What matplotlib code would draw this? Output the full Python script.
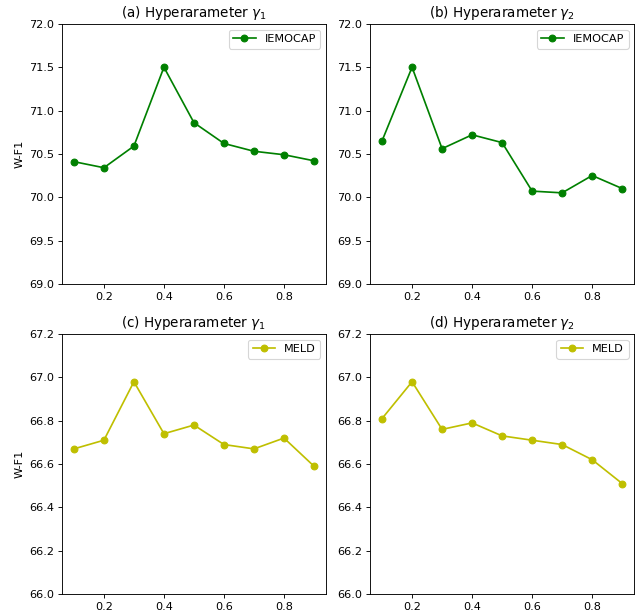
import matplotlib
matplotlib.use("Agg")
from matplotlib import pyplot as plt

xs = [0.1, 0.2, 0.3, 0.4, 0.5, 0.6, 0.7, 0.8, 0.9]

iemocap_g1 = [70.41, 70.34, 70.59, 71.50, 70.86, 70.62, 70.53, 70.49, 70.42]
iemocap_g2 = [70.65, 71.50, 70.56, 70.72, 70.63, 70.07, 70.05, 70.25, 70.10]
meld_g1 = [66.67, 66.71, 66.98, 66.74, 66.78, 66.69, 66.67, 66.72, 66.59]
meld_g2 = [66.81, 66.98, 66.76, 66.79, 66.73, 66.71, 66.69, 66.62, 66.51]

# the reference looks like a downscaled render, so draw at a lower dpi
dpi = 81
fig = plt.figure(figsize=(638 / dpi, 613 / dpi), dpi=dpi)

panels = [
    ([0.097, 0.537, 0.414, 0.424], iemocap_g1, "IEMOCAP", "g", r"(a) Hyperarameter $\gamma_1$", (69.0, 72.0), 0.5, True),
    ([0.580, 0.537, 0.414, 0.424], iemocap_g2, "IEMOCAP", "g", r"(b) Hyperarameter $\gamma_2$", (69.0, 72.0), 0.5, False),
    ([0.097, 0.031, 0.414, 0.424], meld_g1, "MELD", "y", r"(c) Hyperarameter $\gamma_1$", (66.0, 67.2), 0.2, True),
    ([0.580, 0.031, 0.414, 0.424], meld_g2, "MELD", "y", r"(d) Hyperarameter $\gamma_2$", (66.0, 67.2), 0.2, False),
]

for rect, ys, name, color, title, ylim, step, ylab in panels:
    ax = fig.add_axes(rect)
    ax.plot(xs, ys, color=color, marker="o", label=name)
    ax.set_ylim(*ylim)
    n = int(round((ylim[1] - ylim[0]) / step))
    ax.set_yticks([ylim[0] + i * step for i in range(n + 1)])
    ax.set_xticks([0.2, 0.4, 0.6, 0.8])
    ax.set_title(title)
    if ylab:
        ax.set_ylabel("W-F1")
    ax.legend(loc="upper right")

plt.savefig("out.png", dpi=dpi)
